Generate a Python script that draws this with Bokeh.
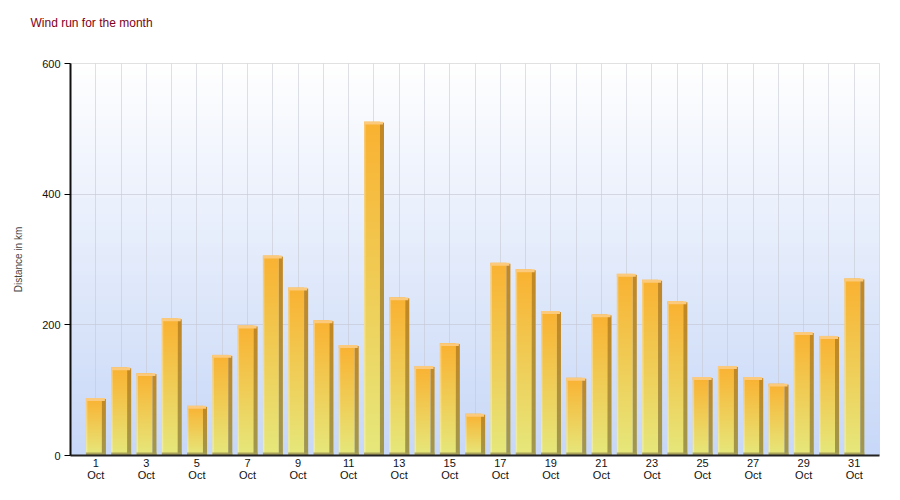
import numpy as np
from bokeh.plotting import figure
from bokeh.models import FixedTicker, Range1d, Title
from bokeh.embed import file_html
from bokeh.resources import INLINE

# ---- data ----
days = list(range(1, 32))
month = "Oct"
wind_km = [88, 135, 126, 210, 76, 154, 199, 306, 257, 207, 169, 511, 242, 137, 172, 64,
           295, 285, 221, 119, 216, 278, 269, 236, 120, 137, 120, 110, 189, 183, 271]
y_ticks = [0, 200, 400, 600]
label_days = [d for d in days if d % 2 == 1]
title_text = "Wind run for the month"
y_label = "Distance in km"


def vgrad(c_bottom, c_top, n=96, alpha=255):
    img = np.empty((n, 1), dtype=np.uint32)
    v = img.view(dtype=np.uint8).reshape((n, 1, 4))
    t = np.linspace(0, 1, n)
    for k in range(3):
        v[:, 0, k] = (c_bottom[k] + (c_top[k] - c_bottom[k]) * t).astype(np.uint8)
    v[:, 0, 3] = alpha
    return img


p = figure(width=884, height=484, output_backend="svg", toolbar_location=None,
           x_range=Range1d(0, 32), y_range=Range1d(0, 600),
           min_border_left=70, min_border_right=5, min_border_top=63, min_border_bottom=27)

spacer = Title(text=" ", text_font_size="1px", standoff=19)
p.add_layout(spacer, "above")
main_title = Title(text=title_text, text_font="Liberation Sans", text_font_size="12px",
                   text_font_style="normal", text_color="#800020", align="left",
                   offset=-40, standoff=24)
p.add_layout(main_title, "above")

p.background_fill_color = "white"
p.border_fill_color = "white"
p.outline_line_color = "#d8d8d8"

# background gradient
p.image_rgba(image=[vgrad((200, 216, 248), (255, 255, 255))], x=0, y=0, dw=32, dh=600, level="image")

# bars
n = len(days)
body_x = [d - 0.39 for d in days]
side_x = [d + 0.24 for d in days]
p.image_rgba(image=[vgrad((230, 232, 124), (250, 178, 50))] * n,
             x=body_x, y=[0] * n, dw=[0.63] * n, dh=wind_km)
p.image_rgba(image=[vgrad((160, 152, 80), (196, 136, 36))] * n,
             x=side_x, y=[0] * n, dw=[0.16] * n, dh=[v - 1.5 for v in wind_km])
# top face
p.quad(left=body_x, right=[d + 0.36 for d in days], top=wind_km,
       bottom=[v - 4.5 for v in wind_km], fill_color="#fcca7c", line_color=None)
# left highlight
p.quad(left=body_x, right=[d - 0.33 for d in days], top=[v - 4.5 for v in wind_km],
       bottom=[0] * n, fill_color="white", fill_alpha=0.3, line_color=None)
# bottom face
p.quad(left=body_x, right=[d + 0.40 for d in days], top=[4.5] * n,
       bottom=[0] * n, fill_color="#a49c58", fill_alpha=0.9, line_color=None)

# grids
p.xgrid.ticker = FixedTicker(ticks=days)
p.xgrid.grid_line_color = "#c4c6d2"
p.xgrid.grid_line_alpha = 0.55
p.ygrid.ticker = FixedTicker(ticks=y_ticks)
p.ygrid.grid_line_color = "#c4c6d2"
p.ygrid.grid_line_alpha = 0.6

# axes
xa = p.xaxis[0]
xa.ticker = FixedTicker(ticks=label_days)
xa.major_label_overrides = {d: f"{d}\n{month}" for d in label_days}
xa.major_tick_line_color = None
xa.minor_tick_line_color = None
xa.major_tick_out = 0
xa.major_tick_in = 0
xa.axis_line_width = 2
xa.axis_line_color = "#222222"
xa.major_label_text_font = "Liberation Sans"
xa.major_label_text_font_size = "11px"
xa.major_label_text_line_height = 1.05
xa.major_label_text_color = "#111111"
xa.major_label_standoff = 1

ya = p.yaxis[0]
ya.ticker = FixedTicker(ticks=y_ticks)
ya.minor_tick_line_color = None
ya.major_tick_in = 0
ya.major_tick_out = 6
ya.axis_line_width = 2
ya.axis_line_color = "#111111"
ya.major_label_text_font = "Liberation Sans"
ya.major_label_text_font_size = "11px"
ya.major_label_text_color = "#111111"
ya.major_label_standoff = 4
ya.axis_label = y_label
ya.axis_label_text_font = "Liberation Sans"
ya.axis_label_text_font_size = "10px"
ya.axis_label_text_font_style = "normal"
ya.axis_label_standoff = 15

open("out.html", "w").write(file_html(p, INLINE))
